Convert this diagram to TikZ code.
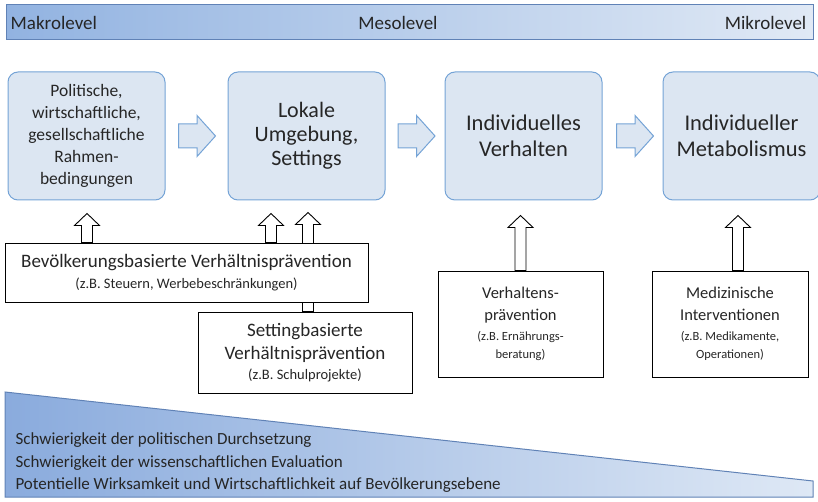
\documentclass[tikz,border=0pt]{standalone}
\usepackage{fontspec}
\setmainfont{Carlito}
\usetikzlibrary{shapes.arrows, positioning, calc, backgrounds}
\definecolor{stagefill}{RGB}{220, 230, 242}
\definecolor{stageline}{RGB}{116, 163, 214}
\definecolor{barleft}{RGB}{146, 179, 225}
\definecolor{barmid}{RGB}{206, 221, 241}
\definecolor{barright}{RGB}{224, 233, 245}
\definecolor{barline}{RGB}{96, 130, 182}
\definecolor{wedgeleft}{RGB}{138, 171, 221}
\definecolor{wedgeright}{RGB}{222, 232, 245}
\definecolor{textgray}{RGB}{38, 38, 38}

\newcommand{\subtxt}{\fontsize{14.5}{18}\selectfont}
% hollow up arrow: foot on #1, tip below #2
\newcommand{\hollowarrow}[2]{%
  \draw[liftarrow] let \p1=(#1), \p2=(#2) in
    (\x1-5.5pt,\y1) -- (\x1-5.5pt,\y2-12pt) -- (\x1-12.5pt,\y2-12pt) -- (\x1,\y2)
    -- (\x1+12.5pt,\y2-12pt) -- (\x1+5.5pt,\y2-12pt) -- (\x1+5.5pt,\y1) -- cycle;}

\begin{document}
\begin{tikzpicture}[x=1pt, y=-1pt,
    stage/.style={draw=stageline, fill=stagefill, rounded corners=10pt, line width=1pt,
      minimum width=157pt, minimum height=128pt, align=center, text=textgray},
    measure/.style={draw=black, fill=white, line width=0.9pt, align=center, text=textgray,
      font=\fontsize{19}{23}\selectfont},
    flowarrow/.style={single arrow, draw=stageline, fill=stagefill, line width=1pt,
      minimum height=37pt, minimum width=40pt, single arrow head extend=8.5pt,
      single arrow tip angle=96, inner xsep=0pt, inner ysep=11.5pt, anchor=tail},
    liftarrow/.style={draw=black, fill=white, line width=0.9pt},
    levelbar/.style={draw=barline, line width=1pt, minimum width=807pt, minimum height=35pt,
      left color=barleft, middle color=barmid, right color=barright},
    leveltext/.style={text=textgray, font=\fontsize{19}{22}\selectfont, inner sep=0pt}]
  \useasboundingbox (0,0) rectangle (818,502);

  % level bar
  \node[levelbar] (bar) at (409.5,22.5) {};
  \node[leveltext, anchor=west] (makro) at ([xshift=5pt]bar.west) {Makrolevel};
  \node[leveltext] (meso) at (398,22.5) {Mesolevel};
  \node[leveltext, anchor=east] (mikro) at ([xshift=-7pt]bar.east) {Mikrolevel};

  % stages
  \node[stage, font=\fontsize{17.5}{22}\selectfont] (rahmen) at (86.5,136)
    {Politische,\\wirtschaftliche,\\gesellschaftliche\\Rahmen-\\bedingungen};
  \node[stage, right=62pt of rahmen, font=\fontsize{22}{24}\selectfont] (umgebung)
    {Lokale\\Umgebung,\\Settings};
  \node[stage, right=59pt of umgebung, font=\fontsize{22.5}{26}\selectfont] (verhalten)
    {Individuelles\\Verhalten};
  \node[stage, right=60pt of verhalten, font=\fontsize{22.5}{26}\selectfont] (metabol)
    {Individueller\\Metabolismus};

  \node[flowarrow] (f1) at ([xshift=12.5pt]rahmen.east) {};
  \node[flowarrow] (f2) at ([xshift=12pt]umgebung.east) {};
  \node[flowarrow] (f3) at ([xshift=13.5pt]verhalten.east) {};

  % measures
  \node[measure, minimum width=363pt, minimum height=59pt] (bevoelk) at (186.5,272.5)
    {Bevölkerungsbasierte Verhältnisprävention\\[-2pt]{\subtxt (z.B. Steuern, Werbebeschränkungen)}};
  \node[measure, minimum width=214pt, minimum height=81pt] (setting) at (305,352.5)
    {Settingbasierte\\Verhältnisprävention\\[-3pt]{\subtxt (z.B. Schulprojekte)}};
  \node[measure, minimum width=165pt, minimum height=106pt, font=\fontsize{16.5}{22}\selectfont] (vpraev) at (520.5,324)
    {Verhaltens-\\prävention\\[-2pt]{\fontsize{12.5}{17}\selectfont (z.B. Ernährungs-}\\[-4pt]{\fontsize{12.5}{17}\selectfont beratung)}};
  \node[measure, minimum width=156pt, minimum height=106pt, font=\fontsize{16.5}{22}\selectfont] (medizin) at (730,324)
    {Medizinische\\Interventionen\\[-2pt]{\fontsize{12.5}{17}\selectfont (z.B. Medikamente,}\\[-4pt]{\fontsize{12.5}{17}\selectfont Operationen)}};

  \hollowarrow{[xshift=-99.5pt]bevoelk.north}{[yshift=-13pt]rahmen.south}
  \hollowarrow{[xshift=84.5pt]bevoelk.north}{[yshift=-13pt]umgebung.south}
  \begin{pgfonlayer}{background}
    \hollowarrow{[xshift=3pt]setting.north}{[yshift=-12pt]umgebung.south}
  \end{pgfonlayer}
  \hollowarrow{vpraev.north}{[yshift=-15pt]verhalten.south}
  \hollowarrow{[xshift=8pt]medizin.north}{[yshift=-15pt]metabol.south}

  % wedge
  \draw[barline, line width=1pt, left color=wedgeleft, right color=wedgeright]
    (5,392) -- (813,481) -- (813,497) -- (5,497) -- cycle;
  \node[anchor=west, align=left, text=textgray, font=\fontsize{17}{22.5}\selectfont] (kriterien) at (12,463)
    {Schwierigkeit der politischen Durchsetzung\\
     Schwierigkeit der wissenschaftlichen Evaluation\\
     Potentielle Wirksamkeit und Wirtschaftlichkeit auf Bevölkerungsebene};
\end{tikzpicture}
\end{document}
